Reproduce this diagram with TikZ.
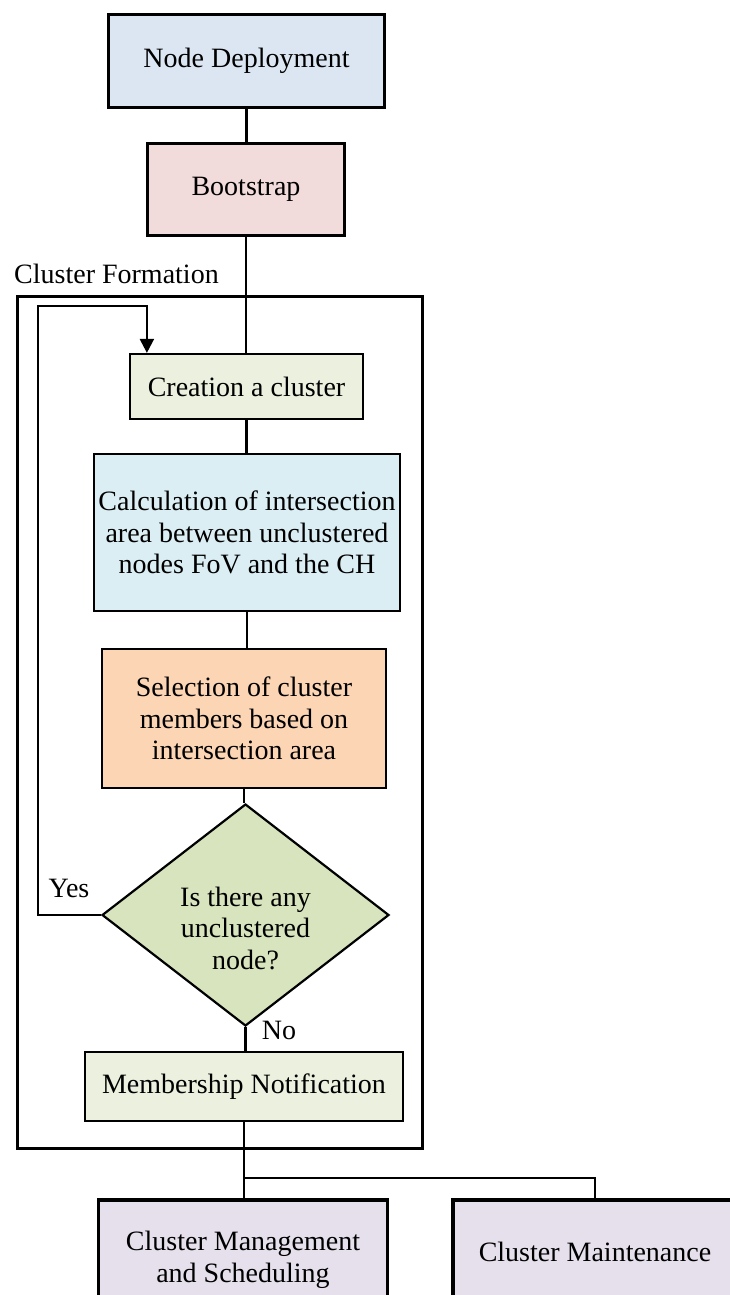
\documentclass[tikz,border=0pt]{standalone}
\usepackage{fontspec}
\setmainfont{Liberation Serif}
\usetikzlibrary{arrows.meta,shapes.geometric}
\definecolor{cND}{HTML}{DCE6F2}
\definecolor{cBS}{HTML}{F2DCDB}
\definecolor{cGR}{HTML}{EBF1DE}
\definecolor{cCA}{HTML}{DBEEF4}
\definecolor{cSE}{HTML}{FCD5B5}
\definecolor{cDI}{HTML}{D7E4BD}
\definecolor{cPU}{HTML}{E5E0EC}
\tikzset{
  txt/.style={font=\fontsize{28}{31.5}\selectfont, align=center, inner sep=0pt},
  thickbox/.style={txt, draw, line width=3.8pt, rectangle},
  thinbox/.style={txt, draw, line width=2.2pt, rectangle},
  conn/.style={line width=2.2pt},
  lbl/.style={font=\fontsize{28}{31.5}\selectfont, inner sep=0pt}
}
\begin{document}
\begin{tikzpicture}[x=1pt,y=-1pt]
\useasboundingbox (0,0) rectangle (730,1295);
\clip (0,0) rectangle (730,1295);
% frame
\node[draw, line width=3.8pt, minimum width=405pt, minimum height=852pt, inner sep=0pt] (frame) at (220,722.5) {};
\node[lbl, anchor=base west] (cf) at (14,283) {Cluster Formation};
% nodes
\node[thickbox, fill=cND, minimum width=276pt, minimum height=93pt] (nd) at (246.5,61) {Node Deployment};
\node[thickbox, fill=cBS, minimum width=197pt, minimum height=92pt] (bs) at (246,189.5) {Bootstrap};
\node[thinbox, fill=cGR, minimum width=233pt, minimum height=65pt] (cr) at (246.5,386.5) {Creation a cluster};
\node[thinbox, fill=cCA, minimum width=306pt, minimum height=157pt] (calc) at (247,532.5) {Calculation of intersection\\area between unclustered\\nodes FoV and the CH};
\node[thinbox, fill=cSE, minimum width=284pt, minimum height=139pt] (sel) at (244,718.5) {Selection of cluster\\members based on\\intersection area};
\node[draw, line width=2.2pt, diamond, fill=cDI, minimum width=287pt, minimum height=222pt, inner sep=0pt] (dia) at (245.5,915) {};
\node[txt] (diat) at (245.5,928) {Is there any\\unclustered\\node?};
\node[thinbox, fill=cGR, minimum width=318pt, minimum height=69pt] (mem) at (244,1086.5) {Membership Notification};
\node[thickbox, fill=cPU, minimum width=289pt, minimum height=120pt] (lb) at (243,1260) {Cluster Management\\and Scheduling};
\node[thickbox, fill=cPU, minimum width=284pt, minimum height=120pt] (rb) at (595,1260) {};
\node[lbl] (rbt) at (595,1252) {Cluster Maintenance};
\node[lbl] (yes) at (69,888) {Yes};
\node[lbl] (no) at (279,1030) {No};
% connectors
\coordinate (lp) at (38,306);
\coordinate (j) at (246,1178);
\draw[conn] (nd.south) -- (nd.south |- bs.north);
\draw[conn] (bs.south) -- (bs.south |- cr.north);
\draw[conn] (cr.south) -- (cr.south |- calc.north);
\draw[conn] (calc.south) -- (calc.south |- sel.north);
\draw[conn] (sel.south) -- (sel.south |- dia.north);
\draw[conn] (dia.south) -- (dia.south |- mem.north);
\draw[conn, -{Triangle[width=14pt,length=14pt]}] (dia.west) -- (dia.west -| lp) -- (lp) -| ([xshift=18pt]cr.north west);
\draw[conn] (mem.south) -- (mem.south |- lb.north);
\draw[conn] (mem.south |- j) -| (rb.north);
\end{tikzpicture}
\end{document}
